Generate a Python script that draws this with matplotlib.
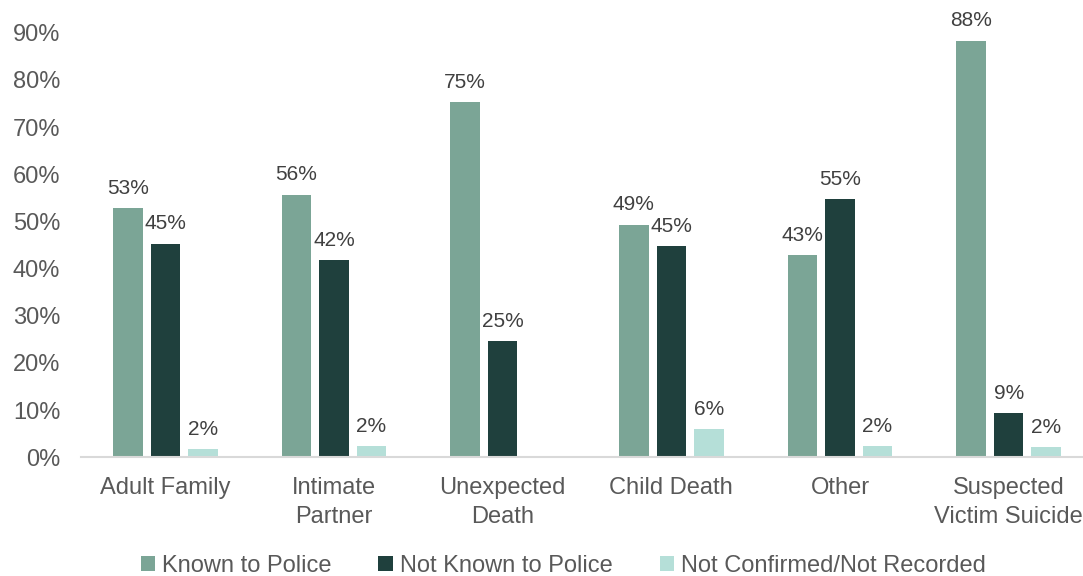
import matplotlib
matplotlib.use("Agg")
import matplotlib.pyplot as plt
import numpy as np

plt.rcParams['font.family'] = ['Liberation Sans', 'DejaVu Sans']

categories = ["Adult Family", "Intimate\nPartner", "Unexpected\nDeath", "Child Death", "Other",
              "Suspected\nVictim Suicide"]
series_names = ["Known to Police", "Not Known to Police", "Not Confirmed/Not Recorded"]
known = [52.8, 55.7, 75.3, 49.3, 42.8, 88.3]
not_known = [45.3, 41.8, 24.6, 44.7, 54.7, 9.4]
not_confirmed = [1.7, 2.3, None, 5.9, 2.3, 2.1]
y_ticks = [0, 10, 20, 30, 40, 50, 60, 70, 80, 90]

colors = ["#7BA596", "#1F403D", "#B5DFD8"]

fig = plt.figure(figsize=(10.83, 5.76), dpi=100)
ax = fig.add_axes([81 / 1083, 1 - 457.3 / 576, 1012 / 1083, (457.3 - 32.7) / 576])

x = np.arange(len(categories))
width = 0.175
step = 0.222
for i, (vals, col, name) in enumerate(zip([known, not_known, not_confirmed], colors, series_names)):
    pos = x + (i - 1) * step
    heights = [v if v is not None else 0 for v in vals]
    ax.bar(pos, heights, width, color=col, label=name, zorder=2)
    for p, v in zip(pos, vals):
        if v is None:
            continue
        ax.annotate(f"{v:.0f}%", (p, v), xytext=(0, 7.5), textcoords="offset points",
                    ha="center", va="bottom", fontsize=15, color="#404040", clip_on=False)

ax.set_xlim(-0.5, len(categories) - 0.5)
ax.set_ylim(0, 90)
ax.set_yticks(y_ticks)
ax.set_yticklabels([f"{t}%" for t in y_ticks])
ax.set_xticks(x)
ax.set_xticklabels(categories, linespacing=1.4)
ax.tick_params(axis="both", length=0, labelsize=17, colors="#595959")
ax.tick_params(axis="y", pad=15)
ax.tick_params(axis="x", pad=14)
for s in ["top", "right", "left"]:
    ax.spines[s].set_visible(False)
ax.spines["bottom"].set_color("#D9D9D9")
ax.spines["bottom"].set_linewidth(1.5)

fig.legend(loc="center", bbox_to_anchor=(0.52, 1 - 566 / 576), ncol=3, frameon=False,
           fontsize=17, handlelength=0.6, handleheight=0.6, handletextpad=0.3,
           columnspacing=2.0, labelcolor="#595959")

fig.savefig("out.png", dpi=100)
